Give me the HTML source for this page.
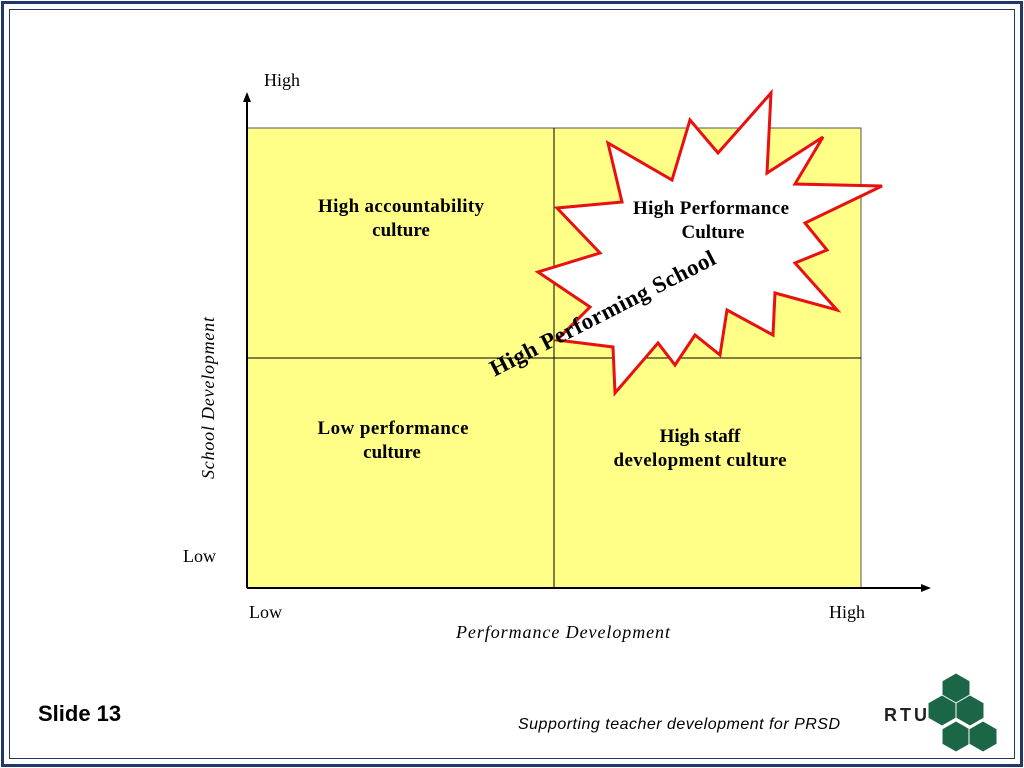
<!DOCTYPE html>
<html><head><meta charset="utf-8"><style>
html,body{margin:0;padding:0;background:#fff}
body{width:1024px;height:768px;position:relative;overflow:hidden;font-family:"Liberation Serif",serif}
</style></head><body>
<div style="position:absolute;left:1px;top:1px;width:1016px;height:760px;border:3px solid #1f3a6a"></div>
<div style="position:absolute;left:9px;top:9px;width:1004px;height:748px;border:1px solid #1f3a6a"></div>
<svg width="1024" height="768" style="position:absolute;left:0;top:0">
<script>
const quadrants=[["High accountability","culture"],["High Performance","Culture"],["Low performance","culture"],["High staff","development culture"]];
const axisLabels=["Low","High"];
</script>
<rect x="247" y="128" width="614" height="460" fill="#ffff88" stroke="#555" stroke-width="1"/>
<line x1="554" y1="128" x2="554" y2="588" stroke="#000"/>
<line x1="247" y1="358" x2="861" y2="358" stroke="#000"/>
<line x1="247" y1="588" x2="247" y2="98" stroke="#000" stroke-width="2"/>
<polygon points="247,92 243,102 251,102" fill="#000"/>
<line x1="247" y1="588" x2="924" y2="588" stroke="#000" stroke-width="2"/>
<polygon points="931,588 921,584 921,592" fill="#000"/>
<polygon fill="#fff" stroke="#e81010" stroke-width="3" stroke-linejoin="miter" points="771,93 767,173 823,137 795,184 882,186 805,223 827,250 795,263 837,310 775,293 773,335 727,310 720,355 695,335 675,365 658,343 615,393 613,347 557,340 590,307 538,272 600,253 557,208 622,202 608,143 672,180 690,120 718,153"/>
<g font-family="Liberation Serif,serif" font-weight="bold" font-size="19" text-anchor="middle" fill="#000">
<text x="401" y="212" textLength="166">High accountability</text>
<text x="401" y="236">culture</text>
<text x="711" y="214" textLength="156">High Performance</text>
<text x="713" y="238">Culture</text>
<text x="393" y="434" textLength="151">Low performance</text>
<text x="392" y="458">culture</text>
<text x="700" y="442">High staff</text>
<text x="700" y="466" textLength="173">development culture</text>
<text font-size="23" transform="translate(606,320) rotate(-27)" textLength="250">High Performing School</text>
</g>
<g font-family="Liberation Serif,serif" font-size="18" fill="#000">
<text x="264" y="86">High</text>
<text x="183" y="562">Low</text>
<text x="249" y="618">Low</text>
<text x="829" y="618">High</text>
<text x="563" y="638" text-anchor="middle" font-style="italic" textLength="214">Performance Development</text>
<text transform="translate(214,398) rotate(-90)" text-anchor="middle" font-style="italic" textLength="162">School Development</text>
</g>
<text x="38" y="721" font-family="Liberation Sans,sans-serif" font-weight="bold" font-size="22">Slide 13</text>
<text x="840" y="729" text-anchor="end" font-family="Liberation Sans,sans-serif" font-style="italic" font-size="16" textLength="322">Supporting teacher development for PRSD</text>
<g fill="#1c6648" stroke="#fff" stroke-width="1">
<polygon points="956,673 970,681 970,696 956,704 942,696 942,681"/>
<polygon points="942,695 956,703 956,718 942,726 928,718 928,703"/>
<polygon points="970,695 984,703 984,718 970,726 956,718 956,703"/>
<polygon points="956,721 970,729 970,744 956,752 942,744 942,729"/>
<polygon points="983,721 997,729 997,744 983,752 969,744 969,729"/>
<text x="884" y="721" font-family="Liberation Sans,sans-serif" font-weight="bold" font-size="18" fill="#222" stroke="none" textLength="43">RTU</text>
</g>
</svg>
</body></html>
